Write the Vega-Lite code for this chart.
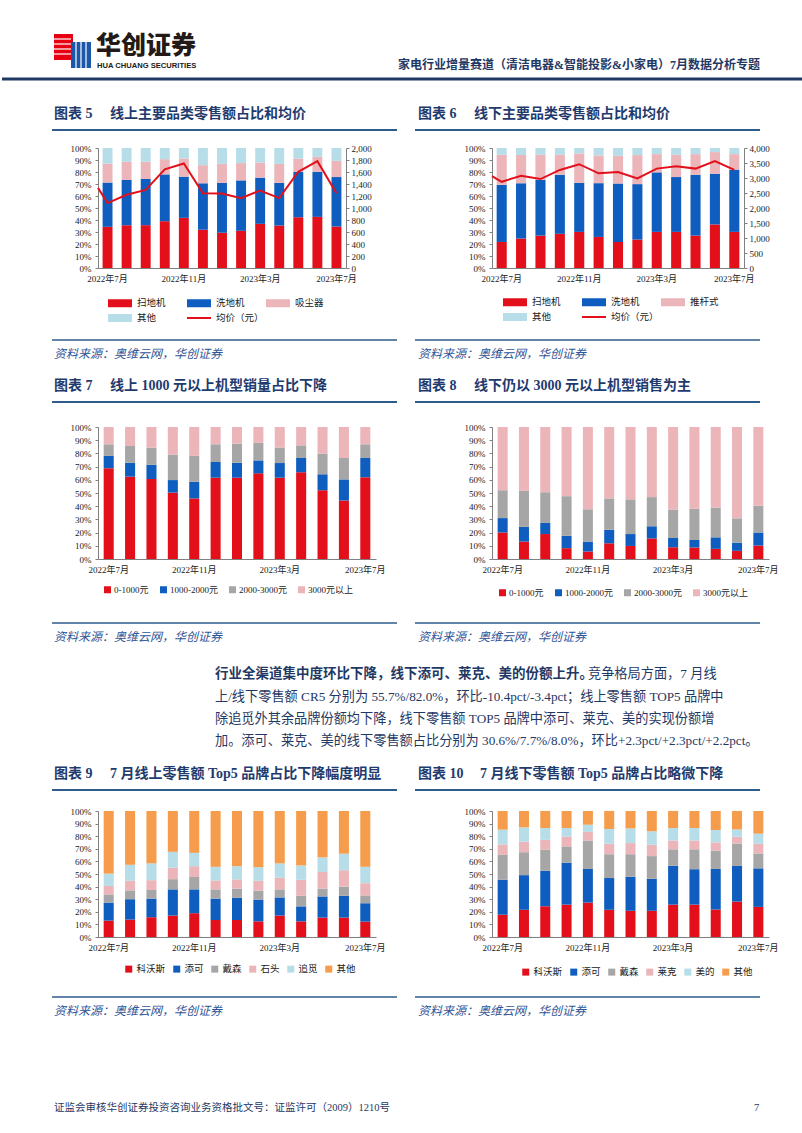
{
"$schema": "https://vega.github.io/schema/vega-lite/v6.json",
"background": "white",
"padding": 0,
"columns": 4,
"bounds": "flush",
"spacing": 0,
"align": {"row": "each", "column": "none"},
"resolve": {"scale": {"x": "independent", "y": "independent", "color": "independent"}, "legend": {"color": "independent"}, "axis": {"x": "independent", "y": "independent"}},
"config": {
  "view": {"stroke": null},
  "font": "'Liberation Serif', 'Noto Sans CJK SC'",
  "axis": {"labelFont": "'Liberation Serif', 'Noto Sans CJK SC'", "labelFontSize": 9, "labelColor": "#1a1a1a", "domainColor": "#808080", "tickColor": "#808080", "tickSize": 3, "labelPadding": 4, "grid": false},
  "legend": {"labelFont": "'Liberation Serif', 'Noto Sans CJK SC'", "labelFontSize": 9.5, "labelColor": "#1a1a1a", "padding": 0, "symbolStrokeWidth": 0, "symbolOpacity": 1}
},
"concat": [
{
  "width": 96, "height": 145,
  "encoding": {
    "x": {"field": "x", "type": "quantitative", "scale": {"domain": [0, 96], "nice": false, "zero": false}, "axis": null},
    "y": {"field": "y", "type": "quantitative", "scale": {"domain": [0, 145], "nice": false, "zero": false, "reverse": true}, "axis": null}
  },
  "layer": [
    {"data": {"values": [{"x": 52, "x2": 71, "y": 31, "y2": 57}]}, "mark": {"type": "rect", "fill": "#E60012"}, "encoding": {"x2": {"field": "x2"}, "y2": {"field": "y2"}}},
    {"data": {"values": [{"x": 69, "x2": 89, "y": 39, "y2": 65}]}, "mark": {"type": "rect", "fill": "#1D57A8"}, "encoding": {"x2": {"field": "x2"}, "y2": {"field": "y2"}}},
    {"data": {"values": [{"x": 52, "x2": 69, "y": 36}, {"x": 52, "x2": 69, "y": 41}, {"x": 52, "x2": 69, "y": 46}, {"x": 52, "x2": 69, "y": 51}]}, "mark": {"type": "rule", "stroke": "white", "strokeWidth": 1.2}, "encoding": {"x2": {"field": "x2"}}},
    {"data": {"values": [{"x": 74, "y": 39, "y2": 65}, {"x": 79, "y": 39, "y2": 65}, {"x": 84, "y": 39, "y2": 65}]}, "mark": {"type": "rule", "stroke": "white", "strokeWidth": 1.2}, "encoding": {"y2": {"field": "y2"}}},
    {"data": {"values": [{"x": 94, "y": 43, "t": "华创证券"}]}, "mark": {"type": "text", "align": "left", "baseline": "middle", "font": "Noto Sans CJK SC", "fontSize": 25, "fontWeight": 900, "color": "#231916"}, "encoding": {"text": {"field": "t"}}},
    {"data": {"values": [{"x": 95, "y": 63, "t": "HUA CHUANG SECURITIES"}]}, "mark": {"type": "text", "align": "left", "baseline": "middle", "font": "Liberation Sans", "fontSize": 7.6, "fontWeight": "bold", "color": "#231916"}, "encoding": {"text": {"field": "t"}}},
    {"data": {"values": [{"x": 758, "y": 62, "t": "家电行业增量赛道（清洁电器&智能投影&小家电）7月数据分析专题"}]}, "mark": {"type": "text", "align": "right", "baseline": "middle", "fontSize": 12, "fontWeight": "bold", "color": "#1F3864"}, "encoding": {"text": {"field": "t"}}},
    {"data": {"values": [{"x": 0, "x2": 802, "y": 76}]}, "mark": {"type": "rule", "stroke": "#1F3864", "strokeWidth": 3}, "encoding": {"x2": {"field": "x2"}}},
    {"data": {"values": [{"x": 52, "y": 111, "t": "图表 5"}, {"x": 108, "y": 111, "t": "线上主要品类零售额占比和均价"}, {"x": 416, "y": 111, "t": "图表 6"}, {"x": 472, "y": 111, "t": "线下主要品类零售额占比和均价"}]}, "mark": {"type": "text", "align": "left", "baseline": "middle", "fontSize": 14, "fontWeight": "bold", "color": "#1F3B6E"}, "encoding": {"text": {"field": "t"}}},
    {"data": {"values": [{"x": 50, "x2": 395, "y": 127}, {"x": 413, "x2": 758, "y": 127}]}, "mark": {"type": "rule", "stroke": "#2E5C8A", "strokeWidth": 2}, "encoding": {"x2": {"field": "x2"}}}
  ]
},
{"width": 1, "height": 1, "data": {"values": [{}]}, "mark": {"type": "point", "opacity": 0}, "encoding": {}},
{"width": 1, "height": 1, "data": {"values": [{}]}, "mark": {"type": "point", "opacity": 0}, "encoding": {}},
{"width": 1, "height": 1, "data": {"values": [{}]}, "mark": {"type": "point", "opacity": 0}, "encoding": {}},

{"width": 96, "height": 1, "data": {"values": [{}]}, "mark": {"type": "point", "opacity": 0}, "encoding": {}},
{
  "width": 248, "height": 120,
  "layer": [
    {
      "data": {"values": [
        {"m": "2022年7月", "a": 34.3, "b": 36.9, "c": 15.9, "d": 12.9},
        {"m": "2022年8月", "a": 35.7, "b": 37.7, "c": 15.1, "d": 11.5},
        {"m": "2022年9月", "a": 35.7, "b": 38.5, "c": 14.3, "d": 11.5},
        {"m": "2022年10月", "a": 39.0, "b": 39.0, "c": 12.7, "d": 9.3},
        {"m": "2022年11月", "a": 41.8, "b": 34.3, "c": 15.1, "d": 8.8},
        {"m": "2022年12月", "a": 31.9, "b": 38.7, "c": 15.1, "d": 14.3},
        {"m": "2023年1月", "a": 29.4, "b": 41.5, "c": 15.9, "d": 13.2},
        {"m": "2023年2月", "a": 31.0, "b": 42.0, "c": 14.4, "d": 12.6},
        {"m": "2023年3月", "a": 36.8, "b": 38.5, "c": 12.6, "d": 12.1},
        {"m": "2023年4月", "a": 35.4, "b": 35.5, "c": 15.9, "d": 13.2},
        {"m": "2023年5月", "a": 42.3, "b": 37.9, "c": 11.0, "d": 8.8},
        {"m": "2023年6月", "a": 42.6, "b": 37.6, "c": 12.4, "d": 7.4},
        {"m": "2023年7月", "a": 34.6, "b": 41.2, "c": 13.5, "d": 10.7}
      ]},
      "transform": [{"fold": ["a", "b", "c", "d"], "as": ["k", "v"]}],
      "mark": {"type": "bar", "width": {"band": 0.52}},
      "encoding": {
        "x": {"field": "m", "type": "ordinal", "scale": {"domain": ["2022年7月","2022年8月","2022年9月","2022年10月","2022年11月","2022年12月","2023年1月","2023年2月","2023年3月","2023年4月","2023年5月","2023年6月","2023年7月"], "paddingInner": 0, "paddingOuter": 0}, "axis": {"values": ["2022年7月","2022年11月","2023年3月","2023年7月"], "labelAngle": 0, "ticks": false, "labelPadding": 6, "title": null}},
        "y": {"field": "v", "type": "quantitative", "stack": "zero", "scale": {"domain": [0, 100], "nice": false}, "axis": {"values": [0,10,20,30,40,50,60,70,80,90,100], "labelExpr": "datum.value + '%'", "title": null}},
        "color": {"field": "k", "type": "nominal", "scale": {"domain": ["a","b","c","d","e"], "range": ["#E3101B","#0E5DBF","#EBB5B9","#B7DDE8","#E3101B"]},
          "legend": {"title": null, "orient": "none", "legendX": 14, "legendY": 147, "direction": "horizontal", "columns": 3, "gridAlign": "all", "columnPadding": 2, "rowPadding": 2, "symbolType": "M-1.5,-0.5H1.5V0.5H-1.5Z", "symbolSize": 256, "labelOffset": 9,
            "labelExpr": "datum.label == 'a' ? '扫地机' : datum.label == 'b' ? '洗地机' : datum.label == 'c' ? '吸尘器' : datum.label == 'd' ? '其他' : '均价（元）'",
            "encode": {"symbols": {"update": {"shape": {"signal": "datum.value === 'e' ? 'M-1.5,-0.125H1.5V0.125H-1.5Z' : 'M-1.5,-0.5H1.5V0.5H-1.5Z'"}}}}}},
        "order": {"field": "k", "type": "ordinal"}
      }
    },
    {
      "data": {"values": [
        {"i": -0.5, "p": 1335, "s": "e"}, {"i": 0, "p": 1082, "s": "e"}, {"i": 1, "p": 1220, "s": "e"}, {"i": 2, "p": 1302, "s": "e"},
        {"i": 3, "p": 1643, "s": "e"}, {"i": 4, "p": 1742, "s": "e"}, {"i": 5, "p": 1247, "s": "e"}, {"i": 6, "p": 1242, "s": "e"},
        {"i": 7, "p": 1165, "s": "e"}, {"i": 8, "p": 1291, "s": "e"}, {"i": 9, "p": 1165, "s": "e"}, {"i": 10, "p": 1604, "s": "e"},
        {"i": 11, "p": 1780, "s": "e"}, {"i": 12, "p": 1247, "s": "e"}
      ]},
      "mark": {"type": "line", "strokeWidth": 2},
      "encoding": {
        "x": {"field": "i", "type": "quantitative", "scale": {"domain": [-0.5, 12.5], "nice": false, "zero": false}, "axis": null},
        "y": {"field": "p", "type": "quantitative", "scale": {"domain": [0, 2000], "nice": false}, "axis": {"orient": "right", "values": [0,200,400,600,800,1000,1200,1400,1600,1800,2000], "format": ",d", "labelPadding": 2, "title": null}},
        "color": {"field": "s", "type": "nominal"}
      }
    }
  ],
  "resolve": {"scale": {"x": "independent", "y": "independent"}}
},
{"width": 116, "height": 1, "data": {"values": [{}]}, "mark": {"type": "point", "opacity": 0}, "encoding": {}},
{
  "width": 252, "height": 120,
  "layer": [
    {
      "data": {"values": [
        {"m": "2022年7月", "a": 21.7, "b": 47.6, "c": 25.1, "d": 5.6},
        {"m": "2022年8月", "a": 24.5, "b": 46.2, "c": 23.4, "d": 5.9},
        {"m": "2022年9月", "a": 27.0, "b": 46.5, "c": 20.9, "d": 5.6},
        {"m": "2022年10月", "a": 28.5, "b": 49.2, "c": 16.7, "d": 5.6},
        {"m": "2022年11月", "a": 30.1, "b": 40.9, "c": 24.5, "d": 4.5},
        {"m": "2022年12月", "a": 25.9, "b": 44.8, "c": 23.1, "d": 6.2},
        {"m": "2023年1月", "a": 21.7, "b": 48.7, "c": 23.1, "d": 6.5},
        {"m": "2023年2月", "a": 23.7, "b": 46.2, "c": 24.2, "d": 5.9},
        {"m": "2023年3月", "a": 30.1, "b": 49.6, "c": 15.2, "d": 5.1},
        {"m": "2023年4月", "a": 30.1, "b": 45.7, "c": 18.6, "d": 5.6},
        {"m": "2023年5月", "a": 27.0, "b": 50.7, "c": 17.2, "d": 5.1},
        {"m": "2023年6月", "a": 36.3, "b": 42.3, "c": 18.0, "d": 3.4},
        {"m": "2023年7月", "a": 30.1, "b": 51.9, "c": 12.9, "d": 5.1}
      ]},
      "transform": [{"fold": ["a", "b", "c", "d"], "as": ["k", "v"]}],
      "mark": {"type": "bar", "width": {"band": 0.52}},
      "encoding": {
        "x": {"field": "m", "type": "ordinal", "scale": {"domain": ["2022年7月","2022年8月","2022年9月","2022年10月","2022年11月","2022年12月","2023年1月","2023年2月","2023年3月","2023年4月","2023年5月","2023年6月","2023年7月"], "paddingInner": 0, "paddingOuter": 0}, "axis": {"values": ["2022年7月","2022年11月","2023年3月","2023年7月"], "labelAngle": 0, "ticks": false, "labelPadding": 6, "title": null}},
        "y": {"field": "v", "type": "quantitative", "stack": "zero", "scale": {"domain": [0, 100], "nice": false}, "axis": {"values": [0,10,20,30,40,50,60,70,80,90,100], "labelExpr": "datum.value + '%'", "title": null}},
        "color": {"field": "k", "type": "nominal", "scale": {"domain": ["a","b","c","d","e"], "range": ["#E3101B","#0E5DBF","#EBB5B9","#B7DDE8","#E3101B"]},
          "legend": {"title": null, "orient": "none", "legendX": 15, "legendY": 146, "direction": "horizontal", "columns": 3, "gridAlign": "all", "columnPadding": 2, "rowPadding": 2, "symbolType": "M-1.5,-0.5H1.5V0.5H-1.5Z", "symbolSize": 256, "labelOffset": 9,
            "labelExpr": "datum.label == 'a' ? '扫地机' : datum.label == 'b' ? '洗地机' : datum.label == 'c' ? '推杆式' : datum.label == 'd' ? '其他' : '均价（元）'",
            "encode": {"symbols": {"update": {"shape": {"signal": "datum.value === 'e' ? 'M-1.5,-0.125H1.5V0.125H-1.5Z' : 'M-1.5,-0.5H1.5V0.5H-1.5Z'"}}}}}},
        "order": {"field": "k", "type": "ordinal"}
      }
    },
    {
      "data": {"values": [
        {"i": -0.5, "p": 3065, "s": "e"}, {"i": 0, "p": 2873, "s": "e"}, {"i": 1, "p": 3077, "s": "e"}, {"i": 2, "p": 2964, "s": "e"},
        {"i": 3, "p": 3268, "s": "e"}, {"i": 4, "p": 3460, "s": "e"}, {"i": 5, "p": 3156, "s": "e"}, {"i": 6, "p": 3200, "s": "e"},
        {"i": 7, "p": 2986, "s": "e"}, {"i": 8, "p": 3313, "s": "e"}, {"i": 9, "p": 3392, "s": "e"}, {"i": 10, "p": 3313, "s": "e"},
        {"i": 11, "p": 3561, "s": "e"}, {"i": 12, "p": 3268, "s": "e"}
      ]},
      "mark": {"type": "line", "strokeWidth": 2},
      "encoding": {
        "x": {"field": "i", "type": "quantitative", "scale": {"domain": [-0.5, 12.5], "nice": false, "zero": false}, "axis": null},
        "y": {"field": "p", "type": "quantitative", "scale": {"domain": [0, 4000], "nice": false}, "axis": {"orient": "right", "values": [0,500,1000,1500,2000,2500,3000,3500,4000], "format": ",d", "labelPadding": 2, "title": null}},
        "color": {"field": "s", "type": "nominal"}
      }
    }
  ],
  "resolve": {"scale": {"x": "independent", "y": "independent"}}
},

{
  "width": 96, "height": 159,
  "encoding": {
    "x": {"field": "x", "type": "quantitative", "scale": {"domain": [0, 96], "nice": false, "zero": false}, "axis": null},
    "y": {"field": "y", "type": "quantitative", "scale": {"domain": [0, 159], "nice": false, "zero": false, "reverse": true}, "axis": null}
  },
  "layer": [
    {"data": {"values": [{"x": 50, "x2": 395, "y": 72}, {"x": 413, "x2": 758, "y": 72}]}, "mark": {"type": "rule", "stroke": "#2E5C8A", "strokeWidth": 1.5}, "encoding": {"x2": {"field": "x2"}}},
    {"data": {"values": [{"x": 52, "y": 86, "t": "资料来源：奥维云网，华创证券"}, {"x": 416, "y": 86, "t": "资料来源：奥维云网，华创证券"}]}, "mark": {"type": "text", "align": "left", "baseline": "middle", "fontSize": 12, "fontStyle": "italic", "color": "#2F5597"}, "encoding": {"text": {"field": "t"}}},
    {"data": {"values": [{"x": 52, "y": 118, "t": "图表 7"}, {"x": 108, "y": 118, "t": "线上 1000 元以上机型销量占比下降"}, {"x": 416, "y": 118, "t": "图表 8"}, {"x": 472, "y": 118, "t": "线下仍以 3000 元以上机型销售为主"}]}, "mark": {"type": "text", "align": "left", "baseline": "middle", "fontSize": 14, "fontWeight": "bold", "color": "#1F3B6E"}, "encoding": {"text": {"field": "t"}}},
    {"data": {"values": [{"x": 50, "x2": 395, "y": 134}, {"x": 413, "x2": 758, "y": 134}]}, "mark": {"type": "rule", "stroke": "#2E5C8A", "strokeWidth": 2}, "encoding": {"x2": {"field": "x2"}}}
  ]
},
{"width": 1, "height": 1, "data": {"values": [{}]}, "mark": {"type": "point", "opacity": 0}, "encoding": {}},
{"width": 1, "height": 1, "data": {"values": [{}]}, "mark": {"type": "point", "opacity": 0}, "encoding": {}},
{"width": 1, "height": 1, "data": {"values": [{}]}, "mark": {"type": "point", "opacity": 0}, "encoding": {}},

{"width": 96, "height": 1, "data": {"values": [{}]}, "mark": {"type": "point", "opacity": 0}, "encoding": {}},
{
  "width": 278, "height": 132,
  "data": {"values": [
    {"m": "2022年7月", "a": 68.8, "b": 9.3, "c": 8.8, "d": 13.1},
    {"m": "2022年8月", "a": 62.4, "b": 10.5, "c": 12.7, "d": 14.4},
    {"m": "2022年9月", "a": 60.6, "b": 10.8, "c": 12.9, "d": 15.7},
    {"m": "2022年10月", "a": 50.3, "b": 9.5, "c": 19.3, "d": 20.9},
    {"m": "2022年11月", "a": 45.9, "b": 12.6, "c": 19.6, "d": 21.9},
    {"m": "2022年12月", "a": 61.6, "b": 11.9, "c": 13.4, "d": 13.1},
    {"m": "2023年1月", "a": 61.6, "b": 11.3, "c": 14.5, "d": 12.6},
    {"m": "2023年2月", "a": 64.9, "b": 9.8, "c": 13.4, "d": 11.9},
    {"m": "2023年3月", "a": 61.6, "b": 11.1, "c": 11.8, "d": 15.5},
    {"m": "2023年4月", "a": 65.7, "b": 10.8, "c": 9.6, "d": 13.9},
    {"m": "2023年5月", "a": 52.1, "b": 12.1, "c": 15.7, "d": 20.1},
    {"m": "2023年6月", "a": 44.3, "b": 16.0, "c": 16.2, "d": 23.5},
    {"m": "2023年7月", "a": 61.9, "b": 14.6, "c": 10.4, "d": 13.1}
  ]},
  "transform": [{"fold": ["a", "b", "c", "d"], "as": ["k", "v"]}],
  "mark": {"type": "bar", "width": {"band": 0.47}},
  "encoding": {
    "x": {"field": "m", "type": "ordinal", "scale": {"domain": ["2022年7月","2022年8月","2022年9月","2022年10月","2022年11月","2022年12月","2023年1月","2023年2月","2023年3月","2023年4月","2023年5月","2023年6月","2023年7月"], "paddingInner": 0, "paddingOuter": 0}, "axis": {"values": ["2022年7月","2022年11月","2023年3月","2023年7月"], "labelAngle": 0, "ticks": false, "labelPadding": 6, "title": null}},
    "y": {"field": "v", "type": "quantitative", "stack": "zero", "scale": {"domain": [0, 100], "nice": false}, "axis": {"values": [0,10,20,30,40,50,60,70,80,90,100], "labelExpr": "datum.value + '%'", "title": null}},
    "color": {"field": "k", "type": "nominal", "scale": {"domain": ["a","b","c","d"], "range": ["#E3101B","#0E5DBF","#A6A6A6","#EBB5B9"]},
      "legend": {"title": null, "orient": "none", "legendX": 5, "legendY": 158, "direction": "horizontal", "symbolType": "square", "symbolSize": 49, "labelOffset": 2, "columnPadding": 10, "labelFontSize": 9,
        "labelExpr": "datum.label == 'a' ? '0-1000元' : datum.label == 'b' ? '1000-2000元' : datum.label == 'c' ? '2000-3000元' : '3000元以上'"}},
    "order": {"field": "k", "type": "ordinal"}
  }
},
{"width": 86, "height": 1, "data": {"values": [{}]}, "mark": {"type": "point", "opacity": 0}, "encoding": {}},
{
  "width": 277, "height": 132,
  "data": {"values": [
    {"m": "2022年7月", "a": 20.1, "b": 10.9, "c": 21.1, "d": 47.9},
    {"m": "2022年8月", "a": 13.2, "b": 11.1, "c": 27.3, "d": 48.4},
    {"m": "2022年9月", "a": 18.9, "b": 8.4, "c": 23.3, "d": 49.4},
    {"m": "2022年10月", "a": 8.2, "b": 9.4, "c": 30.0, "d": 52.4},
    {"m": "2022年11月", "a": 5.7, "b": 7.5, "c": 24.5, "d": 62.3},
    {"m": "2022年12月", "a": 11.9, "b": 10.2, "c": 23.8, "d": 54.1},
    {"m": "2023年1月", "a": 9.9, "b": 9.0, "c": 26.3, "d": 54.8},
    {"m": "2023年2月", "a": 15.6, "b": 9.2, "c": 22.1, "d": 53.1},
    {"m": "2023年3月", "a": 8.9, "b": 7.0, "c": 21.6, "d": 62.5},
    {"m": "2023年4月", "a": 8.7, "b": 5.7, "c": 23.6, "d": 62.0},
    {"m": "2023年5月", "a": 7.7, "b": 8.7, "c": 22.6, "d": 61.0},
    {"m": "2023年6月", "a": 6.2, "b": 6.2, "c": 18.4, "d": 69.2},
    {"m": "2023年7月", "a": 10.2, "b": 9.9, "c": 20.3, "d": 59.6}
  ]},
  "transform": [{"fold": ["a", "b", "c", "d"], "as": ["k", "v"]}],
  "mark": {"type": "bar", "width": {"band": 0.47}},
  "encoding": {
    "x": {"field": "m", "type": "ordinal", "scale": {"domain": ["2022年7月","2022年8月","2022年9月","2022年10月","2022年11月","2022年12月","2023年1月","2023年2月","2023年3月","2023年4月","2023年5月","2023年6月","2023年7月"], "paddingInner": 0, "paddingOuter": 0}, "axis": {"values": ["2022年7月","2022年11月","2023年3月","2023年7月"], "labelAngle": 0, "ticks": false, "labelPadding": 6, "title": null}},
    "y": {"field": "v", "type": "quantitative", "stack": "zero", "scale": {"domain": [0, 100], "nice": false}, "axis": {"values": [0,10,20,30,40,50,60,70,80,90,100], "labelExpr": "datum.value + '%'", "title": null}},
    "color": {"field": "k", "type": "nominal", "scale": {"domain": ["a","b","c","d"], "range": ["#E3101B","#0E5DBF","#A6A6A6","#EBB5B9"]},
      "legend": {"title": null, "orient": "none", "legendX": 6, "legendY": 161, "direction": "horizontal", "symbolType": "square", "symbolSize": 49, "labelOffset": 2, "columnPadding": 10, "labelFontSize": 9,
        "labelExpr": "datum.label == 'a' ? '0-1000元' : datum.label == 'b' ? '1000-2000元' : datum.label == 'c' ? '2000-3000元' : '3000元以上'"}},
    "order": {"field": "k", "type": "ordinal"}
  }
},

{
  "width": 96, "height": 252,
  "encoding": {
    "x": {"field": "x", "type": "quantitative", "scale": {"domain": [0, 96], "nice": false, "zero": false}, "axis": null},
    "y": {"field": "y", "type": "quantitative", "scale": {"domain": [0, 252], "nice": false, "zero": false, "reverse": true}, "axis": null}
  },
  "layer": [
    {"data": {"values": [{"x": 50, "x2": 395, "y": 64}, {"x": 413, "x2": 758, "y": 64}]}, "mark": {"type": "rule", "stroke": "#2E5C8A", "strokeWidth": 1.5}, "encoding": {"x2": {"field": "x2"}}},
    {"data": {"values": [{"x": 52, "y": 78, "t": "资料来源：奥维云网，华创证券"}, {"x": 416, "y": 78, "t": "资料来源：奥维云网，华创证券"}]}, "mark": {"type": "text", "align": "left", "baseline": "middle", "fontSize": 12, "fontStyle": "italic", "color": "#2F5597"}, "encoding": {"text": {"field": "t"}}},
    {"data": {"values": [{"x": 213, "y": 115, "t": "行业全渠道集中度环比下降，线下添可、莱克、美的份额上升。"}]}, "mark": {"type": "text", "align": "left", "baseline": "middle", "fontSize": 13.5, "fontWeight": "bold", "color": "#1F3864"}, "encoding": {"text": {"field": "t"}}},
    {"data": {"values": [
      {"x": 586, "y": 115, "t": "竞争格局方面，7 月线"},
      {"x": 213, "y": 138, "t": "上/线下零售额 CR5 分别为 55.7%/82.0%，环比-10.4pct/-3.4pct；线上零售额 TOP5 品牌中"},
      {"x": 213, "y": 160, "t": "除追觅外其余品牌份额均下降，线下零售额 TOP5 品牌中添可、莱克、美的实现份额增"},
      {"x": 213, "y": 182, "t": "加。添可、莱克、美的线下零售额占比分别为 30.6%/7.7%/8.0%，环比+2.3pct/+2.3pct/+2.2pct。"}
    ]}, "mark": {"type": "text", "align": "left", "baseline": "middle", "fontSize": 13.2, "color": "#1F3864"}, "encoding": {"text": {"field": "t"}}},
    {"data": {"values": [{"x": 52, "y": 215, "t": "图表 9"}, {"x": 108, "y": 215, "t": "7 月线上零售额 Top5 品牌占比下降幅度明显"}, {"x": 416, "y": 215, "t": "图表 10"}, {"x": 478, "y": 215, "t": "7 月线下零售额 Top5 品牌占比略微下降"}]}, "mark": {"type": "text", "align": "left", "baseline": "middle", "fontSize": 14, "fontWeight": "bold", "color": "#1F3B6E"}, "encoding": {"text": {"field": "t"}}},
    {"data": {"values": [{"x": 50, "x2": 395, "y": 231}, {"x": 413, "x2": 758, "y": 231}]}, "mark": {"type": "rule", "stroke": "#2E5C8A", "strokeWidth": 2}, "encoding": {"x2": {"field": "x2"}}}
  ]
},
{"width": 1, "height": 1, "data": {"values": [{}]}, "mark": {"type": "point", "opacity": 0}, "encoding": {}},
{"width": 1, "height": 1, "data": {"values": [{}]}, "mark": {"type": "point", "opacity": 0}, "encoding": {}},
{"width": 1, "height": 1, "data": {"values": [{}]}, "mark": {"type": "point", "opacity": 0}, "encoding": {}},

{"width": 96, "height": 1, "data": {"values": [{}]}, "mark": {"type": "point", "opacity": 0}, "encoding": {}},
{
  "width": 278, "height": 126,
  "data": {"values": [
    {"m": "2022年7月", "a": 13.0, "b": 14.3, "c": 6.5, "d": 6.7, "e": 9.8, "f": 49.7},
    {"m": "2022年8月", "a": 13.8, "b": 16.2, "c": 7.0, "d": 7.6, "e": 12.7, "f": 42.7},
    {"m": "2022年9月", "a": 15.7, "b": 14.8, "c": 6.8, "d": 7.8, "e": 13.3, "f": 41.6},
    {"m": "2022年10月", "a": 17.0, "b": 20.8, "c": 8.1, "d": 9.0, "e": 12.7, "f": 32.4},
    {"m": "2022年11月", "a": 18.9, "b": 18.9, "c": 9.8, "d": 8.6, "e": 10.6, "f": 33.2},
    {"m": "2022年12月", "a": 13.5, "b": 17.0, "c": 7.3, "d": 7.1, "e": 10.8, "f": 44.3},
    {"m": "2023年1月", "a": 13.5, "b": 17.6, "c": 7.3, "d": 7.3, "e": 10.5, "f": 43.8},
    {"m": "2023年2月", "a": 12.4, "b": 17.3, "c": 7.1, "d": 7.8, "e": 10.8, "f": 44.6},
    {"m": "2023年3月", "a": 17.0, "b": 14.4, "c": 6.4, "d": 9.2, "e": 11.4, "f": 41.6},
    {"m": "2023年4月", "a": 12.4, "b": 11.9, "c": 8.4, "d": 12.7, "e": 11.4, "f": 43.2},
    {"m": "2023年5月", "a": 15.4, "b": 16.8, "c": 6.2, "d": 13.2, "e": 11.6, "f": 36.8},
    {"m": "2023年6月", "a": 15.4, "b": 17.3, "c": 7.3, "d": 13.0, "e": 13.1, "f": 33.9},
    {"m": "2023年7月", "a": 12.2, "b": 14.6, "c": 6.2, "d": 9.7, "e": 13.0, "f": 44.3}
  ]},
  "transform": [{"fold": ["a", "b", "c", "d", "e", "f"], "as": ["k", "v"]}],
  "mark": {"type": "bar", "width": {"band": 0.47}},
  "encoding": {
    "x": {"field": "m", "type": "ordinal", "scale": {"domain": ["2022年7月","2022年8月","2022年9月","2022年10月","2022年11月","2022年12月","2023年1月","2023年2月","2023年3月","2023年4月","2023年5月","2023年6月","2023年7月"], "paddingInner": 0, "paddingOuter": 0}, "axis": {"values": ["2022年7月","2022年11月","2023年3月","2023年7月"], "labelAngle": 0, "ticks": false, "labelPadding": 6, "title": null}},
    "y": {"field": "v", "type": "quantitative", "stack": "zero", "scale": {"domain": [0, 100], "nice": false}, "axis": {"values": [0,10,20,30,40,50,60,70,80,90,100], "labelExpr": "datum.value + '%'", "title": null}},
    "color": {"field": "k", "type": "nominal", "scale": {"domain": ["a","b","c","d","e","f"], "range": ["#E3101B","#0E5DBF","#A6A6A6","#EBB5B9","#B7DDE8","#F59D4C"]},
      "legend": {"title": null, "orient": "none", "legendX": 26, "legendY": 153, "direction": "horizontal", "symbolType": "square", "symbolSize": 49, "labelOffset": 3, "columnPadding": 6,
        "labelExpr": "datum.label == 'a' ? '科沃斯' : datum.label == 'b' ? '添可' : datum.label == 'c' ? '戴森' : datum.label == 'd' ? '石头' : datum.label == 'e' ? '追觅' : '其他'"}},
    "order": {"field": "k", "type": "ordinal"}
  }
},
{"width": 85, "height": 1, "data": {"values": [{}]}, "mark": {"type": "point", "opacity": 0}, "encoding": {}},
{
  "width": 277, "height": 126,
  "data": {"values": [
    {"m": "2022年7月", "a": 17.7, "b": 27.8, "c": 19.7, "d": 8.3, "e": 11.7, "f": 14.8},
    {"m": "2022年8月", "a": 21.6, "b": 27.5, "c": 18.2, "d": 8.3, "e": 11.4, "f": 13.0},
    {"m": "2022年9月", "a": 24.4, "b": 28.1, "c": 16.9, "d": 7.7, "e": 9.4, "f": 13.5},
    {"m": "2022年10月", "a": 25.7, "b": 33.3, "c": 12.9, "d": 7.8, "e": 6.8, "f": 13.5},
    {"m": "2022年11月", "a": 27.3, "b": 26.7, "c": 22.6, "d": 6.8, "e": 5.7, "f": 10.9},
    {"m": "2022年12月", "a": 21.6, "b": 25.2, "c": 18.9, "d": 8.3, "e": 11.7, "f": 14.3},
    {"m": "2023年1月", "a": 20.8, "b": 27.0, "c": 17.9, "d": 8.8, "e": 11.7, "f": 13.8},
    {"m": "2023年2月", "a": 20.8, "b": 25.4, "c": 18.0, "d": 9.0, "e": 10.7, "f": 16.1},
    {"m": "2023年3月", "a": 25.7, "b": 30.9, "c": 13.0, "d": 7.0, "e": 9.9, "f": 13.5},
    {"m": "2023年4月", "a": 25.7, "b": 28.1, "c": 15.8, "d": 7.0, "e": 9.9, "f": 13.5},
    {"m": "2023年5月", "a": 21.8, "b": 32.2, "c": 14.6, "d": 6.5, "e": 9.8, "f": 15.1},
    {"m": "2023年6月", "a": 28.1, "b": 28.3, "c": 17.8, "d": 5.4, "e": 5.8, "f": 14.6},
    {"m": "2023年7月", "a": 23.9, "b": 30.6, "c": 11.8, "d": 7.7, "e": 8.0, "f": 18.0}
  ]},
  "transform": [{"fold": ["a", "b", "c", "d", "e", "f"], "as": ["k", "v"]}],
  "mark": {"type": "bar", "width": {"band": 0.47}},
  "encoding": {
    "x": {"field": "m", "type": "ordinal", "scale": {"domain": ["2022年7月","2022年8月","2022年9月","2022年10月","2022年11月","2022年12月","2023年1月","2023年2月","2023年3月","2023年4月","2023年5月","2023年6月","2023年7月"], "paddingInner": 0, "paddingOuter": 0}, "axis": {"values": ["2022年7月","2022年11月","2023年3月","2023年7月"], "labelAngle": 0, "ticks": false, "labelPadding": 6, "title": null}},
    "y": {"field": "v", "type": "quantitative", "stack": "zero", "scale": {"domain": [0, 100], "nice": false}, "axis": {"values": [0,10,20,30,40,50,60,70,80,90,100], "labelExpr": "datum.value + '%'", "title": null}},
    "color": {"field": "k", "type": "nominal", "scale": {"domain": ["a","b","c","d","e","f"], "range": ["#E3101B","#0E5DBF","#A6A6A6","#EBB5B9","#B7DDE8","#F59D4C"]},
      "legend": {"title": null, "orient": "none", "legendX": 29, "legendY": 156, "direction": "horizontal", "symbolType": "square", "symbolSize": 49, "labelOffset": 3, "columnPadding": 6,
        "labelExpr": "datum.label == 'a' ? '科沃斯' : datum.label == 'b' ? '添可' : datum.label == 'c' ? '戴森' : datum.label == 'd' ? '莱克' : datum.label == 'e' ? '美的' : '其他'"}},
    "order": {"field": "k", "type": "ordinal"}
  }
},

{
  "width": 96, "height": 199,
  "encoding": {
    "x": {"field": "x", "type": "quantitative", "scale": {"domain": [0, 96], "nice": false, "zero": false}, "axis": null},
    "y": {"field": "y", "type": "quantitative", "scale": {"domain": [0, 199], "nice": false, "zero": false, "reverse": true}, "axis": null}
  },
  "layer": [
    {"data": {"values": [{"x": 50, "x2": 395, "y": 60}, {"x": 413, "x2": 758, "y": 60}]}, "mark": {"type": "rule", "stroke": "#2E5C8A", "strokeWidth": 1.5}, "encoding": {"x2": {"field": "x2"}}},
    {"data": {"values": [{"x": 52, "y": 74, "t": "资料来源：奥维云网，华创证券"}, {"x": 416, "y": 74, "t": "资料来源：奥维云网，华创证券"}]}, "mark": {"type": "text", "align": "left", "baseline": "middle", "fontSize": 12, "fontStyle": "italic", "color": "#2F5597"}, "encoding": {"text": {"field": "t"}}},
    {"data": {"values": [{"x": 52, "y": 171, "t": "证监会审核华创证券投资咨询业务资格批文号：证监许可（2009）1210号"}, {"x": 752, "y": 171, "t": "7"}]}, "mark": {"type": "text", "align": "left", "baseline": "middle", "fontSize": 10.5, "color": "#1F3864"}, "encoding": {"text": {"field": "t"}}}
  ]
},
{"width": 1, "height": 1, "data": {"values": [{}]}, "mark": {"type": "point", "opacity": 0}, "encoding": {}},
{"width": 1, "height": 1, "data": {"values": [{}]}, "mark": {"type": "point", "opacity": 0}, "encoding": {}},
{"width": 1, "height": 1, "data": {"values": [{}]}, "mark": {"type": "point", "opacity": 0}, "encoding": {}}
]
}
